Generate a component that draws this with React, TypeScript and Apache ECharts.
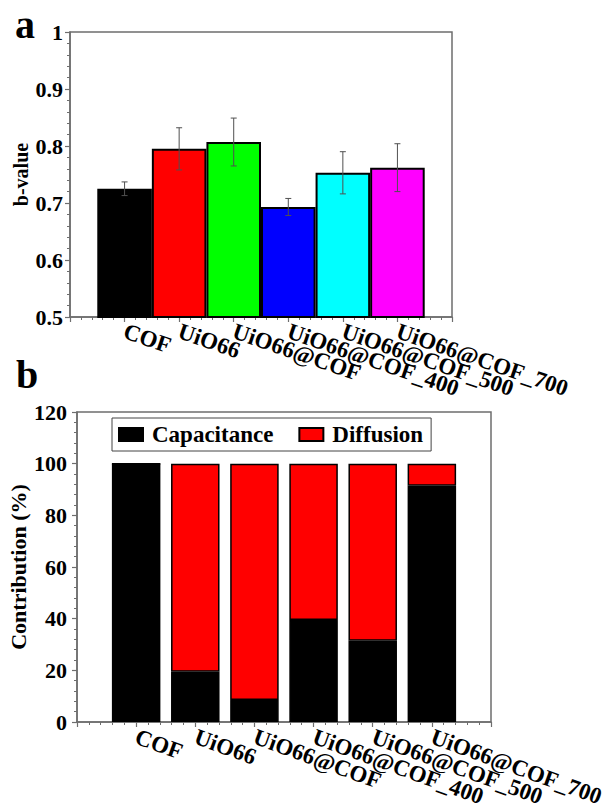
import React, { useEffect, useRef } from 'react';
import * as echarts from 'echarts';

// ---- data ----
const categories = ['COF', 'UiO66', 'UiO66@COF', 'UiO66@COF_400', 'UiO66@COF_500', 'UiO66@COF_700'];
const positions = [1, 2, 3, 4, 5, 6];
const slots = ['0', '1', '2', '3', '4', '5', '6', '7'];
const bValues = [0.725, 0.795, 0.807, 0.693, 0.753, 0.762];
const bErrors = [0.012, 0.037, 0.042, 0.015, 0.037, 0.042];
const barColors = ['#000000', '#ff0000', '#00ff00', '#0000ff', '#00ffff', '#ff00ff'];
const capacitance = [100, 19.5, 8.5, 39.5, 31.5, 91.5];
const diffusion = [0, 80.5, 91.5, 60.5, 68.5, 8.5];

const FONT = 'Liberation Serif';
const AXIS_COLOR = '#6e6e6e';

const labelStyle = (fontSize: number, margin: number, rotate: number) => ({
  rotate,
  margin,
  fontSize,
  fontWeight: 'bold',
  fontFamily: FONT,
  color: '#000',
});

function valueXAxis(gridIndex: number, showLabel: boolean, fontSize: number, margin: number, rotate: number) {
  return {
    gridIndex,
    type: 'value',
    position: 'bottom',
    min: 0,
    max: 7,
    interval: 1,
    axisLine: { show: true, onZero: false, lineStyle: { color: AXIS_COLOR, width: 1.5 } },
    axisTick: { show: true, length: 5, lineStyle: { color: AXIS_COLOR, width: 1.2 } },
    minorTick: { show: true, splitNumber: 5, length: 3, lineStyle: { color: AXIS_COLOR, width: 1 } },
    splitLine: { show: false },
    axisLabel: {
      show: showLabel,
      formatter: (v: number) => categories[v - 1] ?? '',
      ...labelStyle(fontSize, margin, rotate),
    },
  };
}

function yAxisCfg(gridIndex: number, min: number, max: number, interval: number, name: string, nameGap: number, nameSize: number, labelMargin: number) {
  return {
    gridIndex,
    type: 'value',
    min,
    max,
    interval,
    name,
    nameLocation: 'middle',
    nameGap,
    nameMoveOverlap: false,
    nameTextStyle: { fontSize: nameSize, fontWeight: 'bold', fontFamily: FONT, color: '#000' },
    axisLine: { show: true, onZero: false, lineStyle: { color: AXIS_COLOR, width: 1.5 } },
    axisTick: { show: true, length: 5, lineStyle: { color: AXIS_COLOR, width: 1.2 } },
    minorTick: { show: true, splitNumber: 5, length: 3, lineStyle: { color: AXIS_COLOR, width: 1 } },
    splitLine: { show: false },
    axisLabel: { fontSize: 22, fontWeight: 'bold', fontFamily: FONT, color: '#000', margin: labelMargin },
  };
}

export default function App() {
  const ref = useRef<HTMLDivElement>(null);
  useEffect(() => {
    if (!ref.current) return;
    const chart = echarts.init(ref.current, undefined, { renderer: 'svg' });
    const option: any = {
      animation: false,
      backgroundColor: '#ffffff',
      grid: [
        { left: 70, top: 32, width: 382, height: 285, outerBoundsMode: 'none', containLabel: false, show: true, borderColor: AXIS_COLOR, borderWidth: 1.5, backgroundColor: 'transparent' },
        { left: 77, top: 412, width: 414, height: 310, outerBoundsMode: 'none', containLabel: false, show: true, borderColor: AXIS_COLOR, borderWidth: 1.5, backgroundColor: 'transparent' },
      ],
      xAxis: [
        valueXAxis(0, true, 23, 13, -19),
        // category axis for panel b: bars sit on the ticks (boundaryGap false)
        {
          gridIndex: 1,
          type: 'category',
          position: 'bottom',
          boundaryGap: false,
          data: slots,
          axisLine: { show: false },
          axisTick: { show: false },
          splitLine: { show: false },
          axisLabel: {
            interval: 0,
            formatter: (_v: string, idx: number) => categories[idx - 1] ?? '',
            ...labelStyle(23, 14, -20),
          },
        },
        // value axis for panel b: line, major and minor ticks
        valueXAxis(1, false, 23, 14, -20),
      ],
      yAxis: [
        yAxisCfg(0, 0.5, 1, 0.1, 'b-value', 39, 20, 7),
        yAxisCfg(1, 0, 120, 20, 'Contribution (%)', 48, 22, 10),
      ],
      legend: {
        data: ['Capacitance', 'Diffusion'],
        left: 112,
        top: 418,
        orient: 'horizontal',
        icon: 'rect',
        itemWidth: 24,
        itemHeight: 13,
        itemGap: 25,
        padding: [5, 8, 5, 6],
        borderColor: '#444',
        borderWidth: 1,
        textStyle: { fontSize: 23, fontWeight: 'bold', fontFamily: FONT, color: '#000', padding: [0, 0, 0, 4] },
      },
      graphic: [
        { type: 'text', left: 15, top: 4, style: { text: 'a', font: `bold 40px ${FONT}`, fill: '#000' } },
        { type: 'text', left: 16, top: 354, style: { text: 'b', font: `bold 40px ${FONT}`, fill: '#000' } },
      ],
      series: [
        {
          type: 'bar',
          name: 'b-value',
          xAxisIndex: 0,
          yAxisIndex: 0,
          barWidth: '100%',
          itemStyle: { borderColor: '#000', borderWidth: 2 },
          data: positions.map((p, i) => ({ value: [p, bValues[i]], itemStyle: { color: barColors[i] } })),
        },
        {
          type: 'custom',
          name: 'error',
          xAxisIndex: 0,
          yAxisIndex: 0,
          z: 5,
          encode: { x: 0, y: 1 },
          data: positions.map((p, i) => [p, bValues[i], bErrors[i]]),
          renderItem: (params: any, api: any) => {
            const x = api.value(0);
            const y = api.value(1);
            const e = api.value(2);
            const top = api.coord([x, y + e]);
            const bot = api.coord([x, y - e]);
            const half = 3;
            const style = { stroke: '#505050', lineWidth: 1 };
            return {
              type: 'group',
              children: [
                { type: 'line', shape: { x1: top[0], y1: top[1], x2: bot[0], y2: bot[1] }, style },
                { type: 'line', shape: { x1: top[0] - half, y1: top[1], x2: top[0] + half, y2: top[1] }, style },
                { type: 'line', shape: { x1: bot[0] - half, y1: bot[1], x2: bot[0] + half, y2: bot[1] }, style },
              ],
            };
          },
        },
        {
          type: 'bar',
          name: 'Capacitance',
          xAxisIndex: 1,
          yAxisIndex: 1,
          stack: 'total',
          barWidth: '82%',
          itemStyle: { color: '#000000', borderColor: '#000', borderWidth: 1.5 },
          data: positions.map((p, i) => [p, capacitance[i]]),
        },
        {
          type: 'bar',
          name: 'Diffusion',
          xAxisIndex: 1,
          yAxisIndex: 1,
          stack: 'total',
          barWidth: '82%',
          itemStyle: { color: '#ff0000', borderColor: '#000', borderWidth: 1.5 },
          data: positions.map((p, i) => [p, diffusion[i]]),
        },
      ],
    };
    chart.setOption(option);
    return () => chart.dispose();
  }, []);
  return <div ref={ref} style={{ position: 'absolute', left: 0, top: 0, width: 604, height: 812 }} />;
}
